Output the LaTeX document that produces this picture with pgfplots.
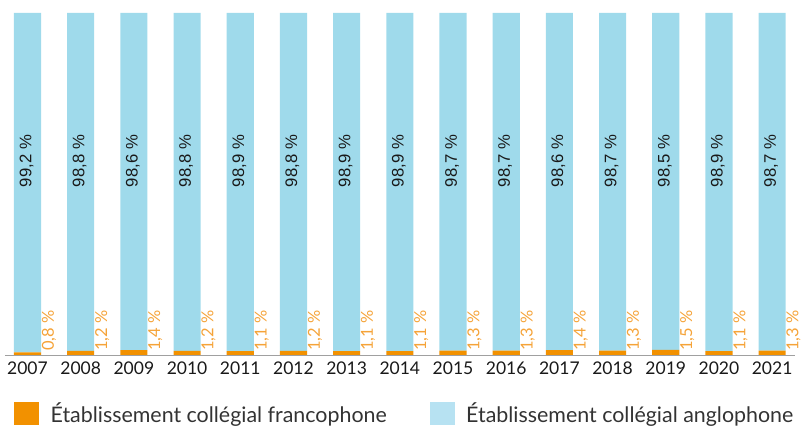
\documentclass[border=0pt]{standalone}
\usepackage{fontspec}
\setmainfont{Lato}
\newfontfamily\valfont{Liberation Sans}
\usepackage{pgfplots}
\usepackage{pgfplotstable}
\pgfplotsset{compat=1.18}

\definecolor{orangeC}{HTML}{F29100}
\definecolor{orangeT}{HTML}{F5A338}
\definecolor{blueC}{HTML}{9FDAEB}
\definecolor{blueL}{HTML}{B7E2F2}
\definecolor{axisG}{HTML}{A0A0A0}
\definecolor{legT}{HTML}{333333}

% ly / oy: vertical position of the value labels
\pgfplotstableread{
x year fr en ly oy
0 2007 0.8 99.2 56.7 1.2
1 2008 1.2 98.8 56.7 1.2
2 2009 1.4 98.6 56.7 1.2
3 2010 1.2 98.8 56.7 1.2
4 2011 1.1 98.9 56.7 1.2
5 2012 1.2 98.8 56.7 1.2
6 2013 1.1 98.9 56.7 1.2
7 2014 1.1 98.9 56.7 1.2
8 2015 1.3 98.7 56.7 1.2
9 2016 1.3 98.7 56.7 1.2
10 2017 1.4 98.6 56.7 1.2
11 2018 1.3 98.7 56.7 1.2
12 2019 1.5 98.5 56.7 1.2
13 2020 1.1 98.9 56.7 1.2
14 2021 1.3 98.7 56.7 1.2
}\data

\pgfplotsset{frame/.style={at={(5pt,73pt)}, anchor=south west, scale only axis,
  width=790pt, height=342pt, xmin=-0.423, xmax=14.43, ymin=0, ymax=100,
  /pgf/number format/assume math mode=true}}

\begin{document}
\begin{tikzpicture}
\path[use as bounding box] (0pt,0pt) rectangle (801pt,428pt);
\begin{axis}[frame,
  ybar stacked, bar width=0.51,
  axis x line=bottom, axis y line=none, axis line style={axisG, line width=0.8pt, -},
  xtick={0,...,14}, xticklabels={2007,2008,2009,2010,2011,2012,2013,2014,2015,2016,2017,2018,2019,2020,2021},
  major tick length=0pt, ytick=\empty,
  xticklabel style={font=\fontsize{17.5}{20}\selectfont, text=black!90, yshift=-3.5pt},
  legend columns=2,
  legend style={at={(9pt,-58.5pt)}, anchor=west, draw=none, fill=none, inner sep=0pt,
    font=\fontsize{21.4}{25}\selectfont, text=legT,
    nodes={inner sep=0pt},
    /tikz/every odd column/.append style={column sep=12pt},
    /tikz/every even column/.append style={column sep=43pt}},
  legend cell align=left,
]
\addplot[fill=orangeC, draw=none, forget plot] table[x=x, y=fr] {\data};
\addplot[fill=blueC, draw=none, forget plot] table[x=x, y=en] {\data};
\addlegendimage{legend image code/.code={\fill[orangeC] (0pt,-11pt) rectangle (24pt,11pt);}}
\addlegendentry{Établissement collégial francophone}
\addlegendimage{legend image code/.code={\fill[blueL] (0pt,-11pt) rectangle (24pt,11pt);}}
\addlegendentry{Établissement collégial anglophone}
\end{axis}
\begin{axis}[frame, hide axis, point meta=explicit,
  nodes near coords={\pgfmathprintnumber[use comma,fixed,fixed zerofill,precision=1]{\pgfplotspointmeta}~\%}]
\addplot[draw=none, mark=none,
  every node near coord/.append style={xshift=21.5pt, rotate=90, anchor=west,
    font=\fontsize{16.5}{18}\selectfont, text=orangeT, inner sep=0pt}]
  table[x=x, y=oy, meta=fr] {\data};
\addplot[draw=none, mark=none,
  every node near coord/.append style={xshift=-1pt, rotate=90, anchor=center,
    font=\valfont\fontsize{16.7}{18}\selectfont, text=black!90, inner sep=0pt}]
  table[x=x, y=ly, meta=en] {\data};
\end{axis}
\end{tikzpicture}
\end{document}
